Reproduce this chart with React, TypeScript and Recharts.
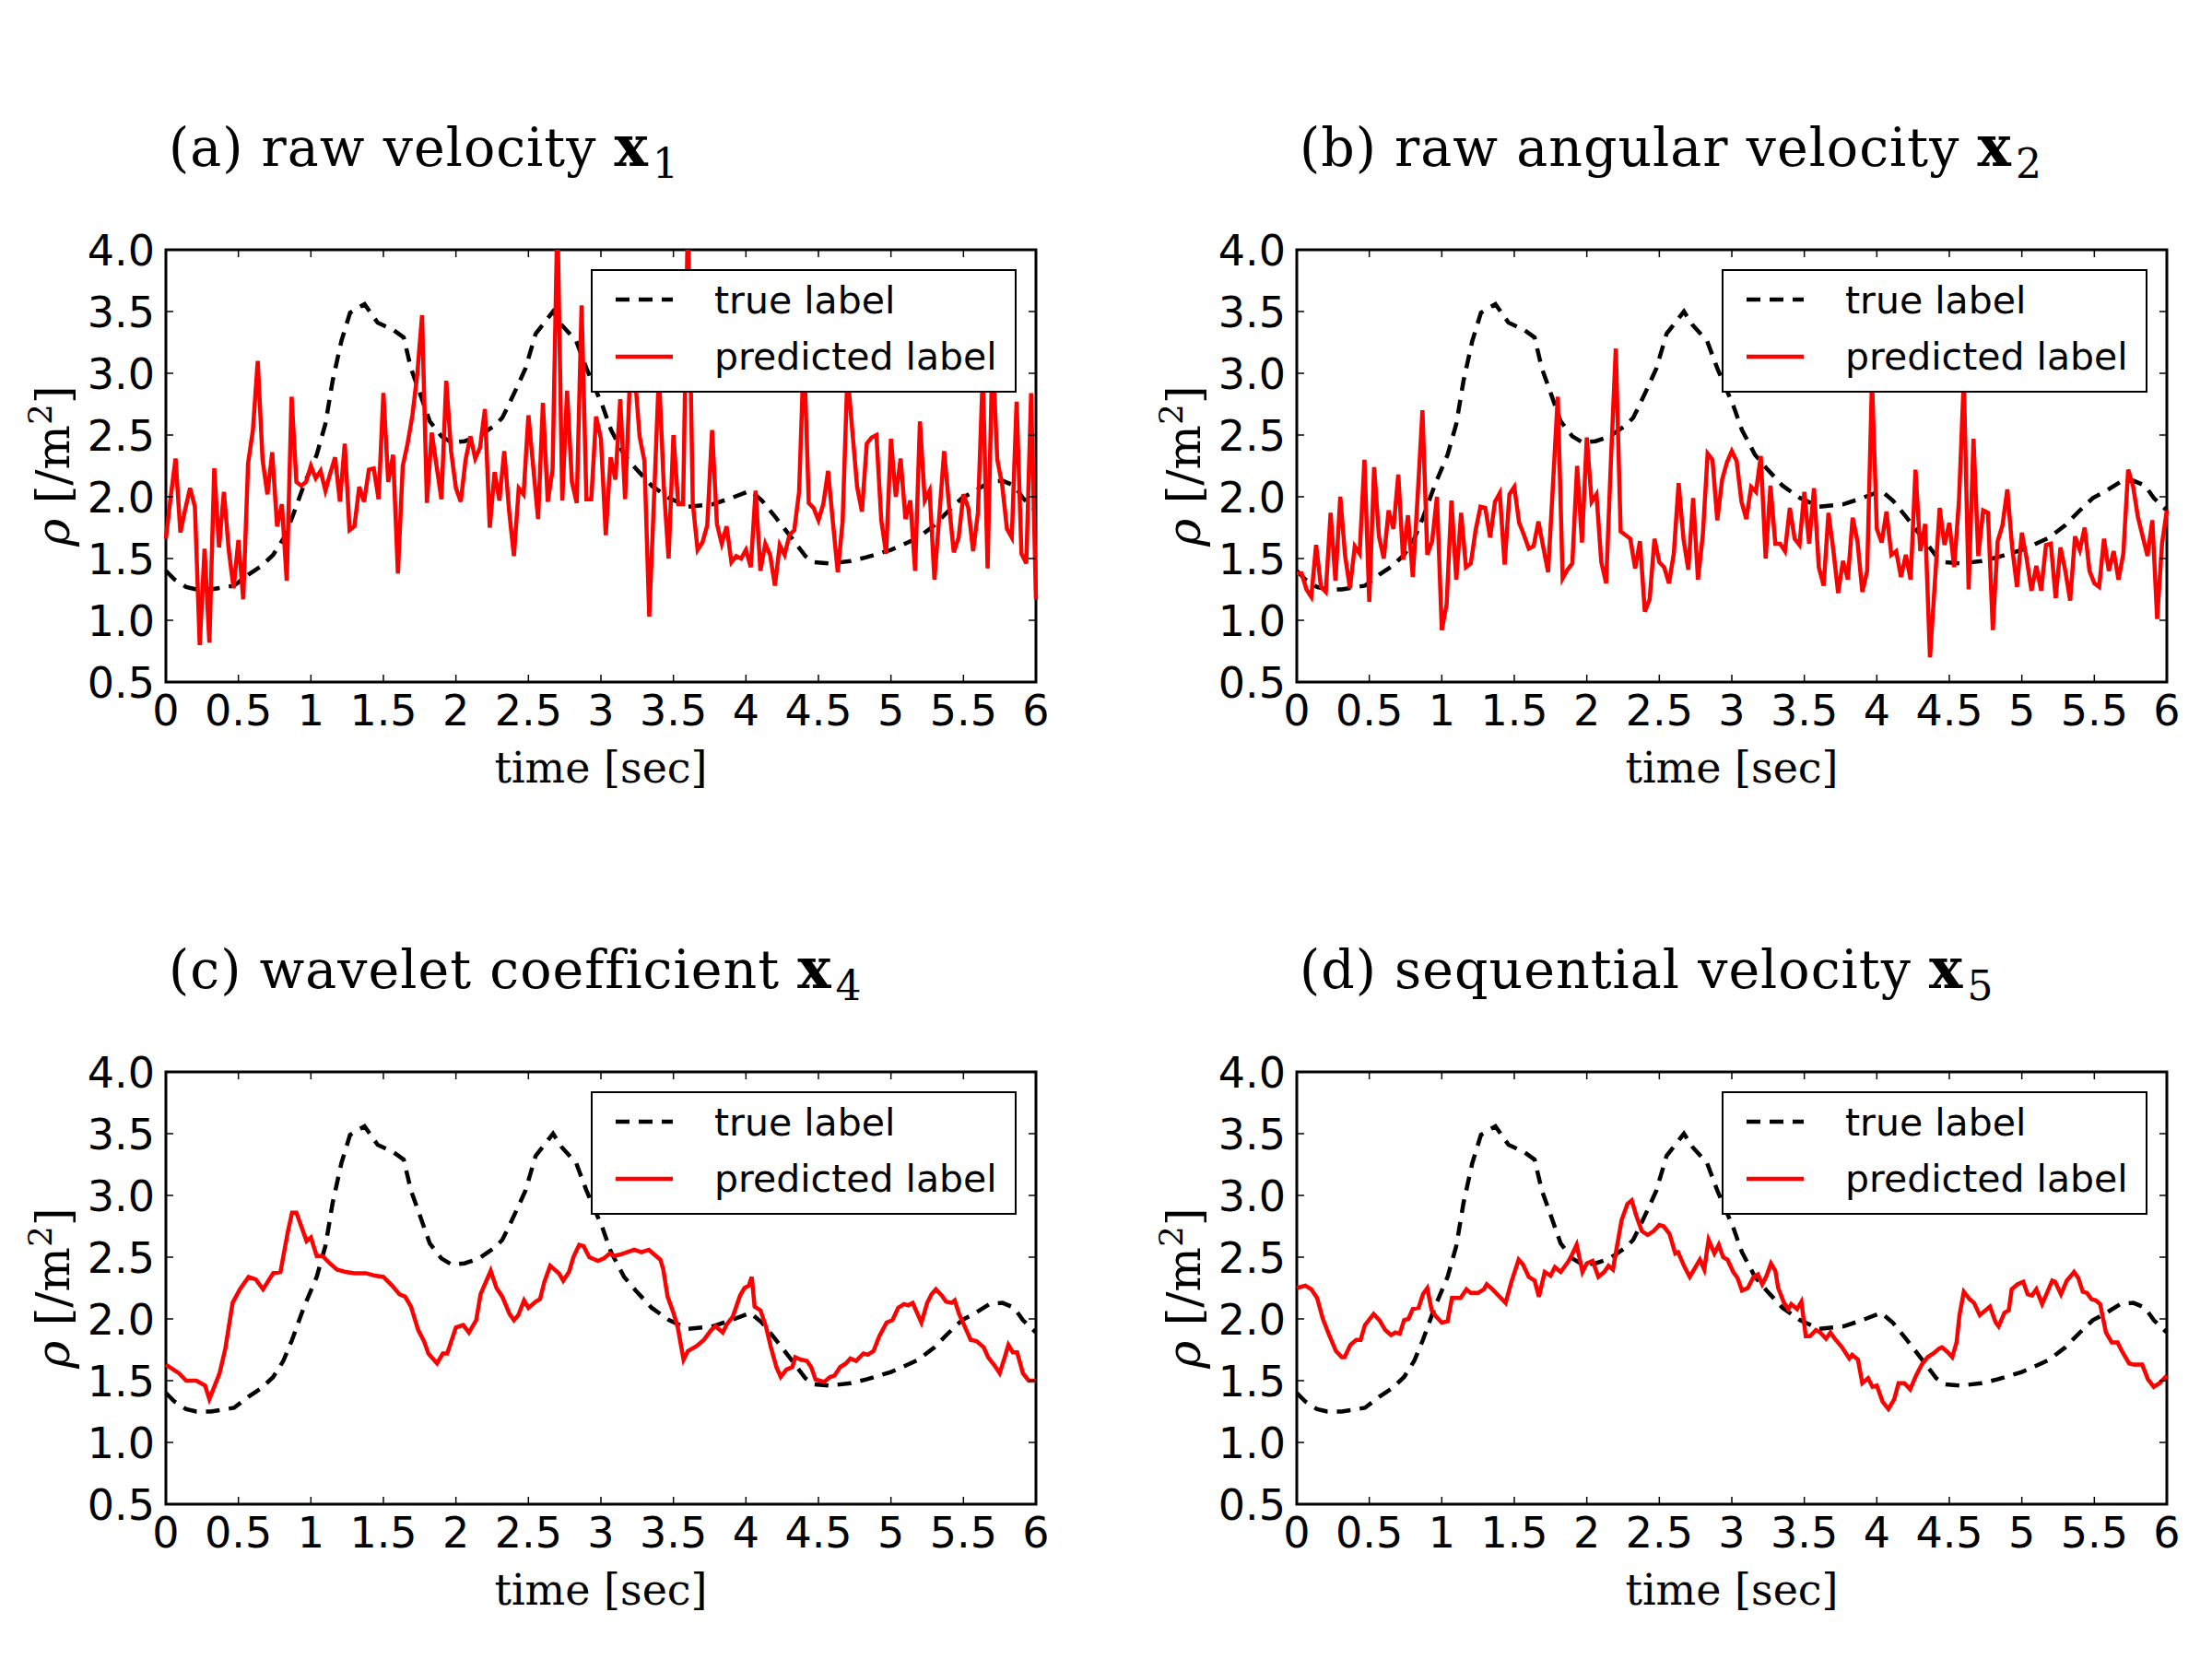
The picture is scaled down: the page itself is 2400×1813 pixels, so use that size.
import React from 'react';
import { LineChart, Line, XAxis, YAxis, ReferenceArea, Legend, Label } from 'recharts';

// ---- data -------------------------------------------------------------

const TIME_STEP = 1 / 30; // predicted series sampled at 30 Hz
const X_TICKS = [0, 0.5, 1, 1.5, 2, 2.5, 3, 3.5, 4, 4.5, 5, 5.5, 6];
const Y_TICKS = [0.5, 1.0, 1.5, 2.0, 2.5, 3.0, 3.5, 4.0];

// ground-truth density [t (sec), rho]
const TRUE_LABEL: [number, number][] = [
  [0, 1.40], [0.06, 1.33], [0.14, 1.27], [0.21, 1.25], [0.31, 1.25], [0.36, 1.26], [0.47, 1.28],
  [0.57, 1.37], [0.66, 1.44], [0.74, 1.53], [0.81, 1.66], [0.87, 1.83], [0.95, 2.09], [1.04, 2.34],
  [1.10, 2.59], [1.15, 2.94], [1.21, 3.26], [1.27, 3.49], [1.37, 3.56], [1.46, 3.41], [1.57, 3.35],
  [1.64, 3.29], [1.69, 3.04], [1.76, 2.81], [1.82, 2.61], [1.90, 2.49], [1.97, 2.44], [2.06, 2.45],
  [2.16, 2.49], [2.27, 2.58], [2.32, 2.64], [2.37, 2.76], [2.43, 2.91], [2.48, 3.04], [2.55, 3.32],
  [2.61, 3.41], [2.67, 3.50], [2.73, 3.39], [2.83, 3.26], [2.90, 3.04], [3.01, 2.74], [3.07, 2.54],
  [3.16, 2.34], [3.24, 2.23], [3.35, 2.09], [3.47, 1.99], [3.60, 1.92], [3.77, 1.94], [3.90, 1.99],
  [4.03, 2.05], [4.11, 1.97], [4.20, 1.84], [4.30, 1.69], [4.41, 1.52], [4.47, 1.47], [4.58, 1.46],
  [4.72, 1.48], [4.83, 1.51], [5.00, 1.57], [5.08, 1.61], [5.19, 1.67], [5.30, 1.77], [5.40, 1.89],
  [5.49, 1.99], [5.57, 2.04], [5.68, 2.12], [5.77, 2.13], [5.85, 2.09], [5.91, 1.99], [6.00, 1.89],
];

// (a) prediction from raw velocity, one value per TIME_STEP
const PRED_RAW_VELOCITY = [
  1.66, 2.00, 2.31, 1.71, 1.90, 2.07, 1.92, 0.80, 1.58, 0.82,
  2.23, 1.59, 2.04, 1.57, 1.26, 1.65, 1.17, 2.27, 2.54, 3.10,
  2.30, 2.02, 2.36, 1.76, 1.94, 1.32, 2.81, 2.12, 2.09, 2.12,
  2.25, 2.15, 2.21, 2.05, 2.19, 2.32, 1.96, 2.43, 1.73, 1.76,
  2.08, 1.96, 2.22, 2.23, 1.98, 2.84, 2.12, 2.34, 1.38, 2.25,
  2.43, 2.66, 2.99, 3.47, 1.95, 2.52, 2.25, 1.98, 2.94, 2.37,
  2.07, 1.96, 2.30, 2.49, 2.31, 2.40, 2.71, 1.75, 2.20, 1.97,
  2.37, 1.89, 1.52, 2.07, 2.02, 2.66, 2.24, 1.82, 2.76, 1.96,
  2.22, 4.30, 1.97, 2.86, 2.12, 1.95, 3.55, 1.98, 1.98, 2.65,
  2.47, 1.69, 2.32, 2.14, 2.79, 1.98, 2.95, 3.00, 2.49, 2.29,
  1.03, 2.00, 3.00, 2.09, 1.50, 2.50, 1.94, 1.94, 4.30, 1.95,
  1.57, 1.63, 1.77, 2.54, 1.78, 1.62, 1.76, 1.47, 1.52, 1.50,
  1.57, 1.43, 2.05, 1.40, 1.62, 1.53, 1.28, 1.61, 1.53, 1.69,
  1.73, 2.04, 3.20, 1.95, 1.91, 1.81, 1.94, 2.21, 1.79, 1.39,
  1.80, 3.00, 2.54, 2.08, 1.88, 2.43, 2.48, 2.50, 1.81, 1.54,
  2.47, 2.00, 2.31, 1.82, 1.97, 1.40, 2.61, 1.97, 2.05, 1.33,
  1.84, 2.37, 1.94, 1.55, 1.67, 2.02, 1.91, 1.56, 1.87, 3.00,
  1.42, 3.20, 2.30, 2.10, 1.74, 1.67, 2.77, 1.54, 1.46, 2.84,
  1.17,
];

// (b) prediction from raw angular velocity, one value per TIME_STEP
const PRED_RAW_ANGULAR = [
  1.38, 1.38, 1.25, 1.19, 1.61, 1.27, 1.23, 1.87, 1.32, 2.00,
  1.52, 1.26, 1.60, 1.54, 2.30, 1.15, 2.24, 1.68, 1.50, 1.89,
  1.74, 2.18, 1.49, 1.85, 1.35, 2.00, 2.70, 1.53, 1.64, 2.00,
  0.92, 1.13, 1.97, 1.33, 1.87, 1.43, 1.46, 1.73, 1.92, 1.91,
  1.67, 1.96, 2.03, 1.45, 2.02, 2.08, 1.79, 1.69, 1.58, 1.60,
  1.80, 1.59, 1.39, 2.10, 2.81, 1.34, 1.41, 1.46, 2.25, 1.63,
  2.48, 1.96, 2.02, 1.47, 1.30, 2.30, 3.20, 1.72, 1.69, 1.66,
  1.42, 1.64, 1.07, 1.17, 1.66, 1.47, 1.43, 1.30, 1.54, 2.11,
  1.66, 1.41, 1.99, 1.33, 1.69, 2.35, 2.30, 1.81, 2.14, 2.28,
  2.37, 2.29, 1.96, 1.82, 2.08, 2.04, 2.33, 1.50, 2.09, 1.62,
  1.62, 1.56, 1.91, 1.66, 1.61, 2.04, 1.62, 2.07, 1.43, 1.28,
  1.87, 1.57, 1.22, 1.48, 1.33, 1.83, 1.64, 1.23, 1.40, 2.95,
  1.74, 1.63, 1.88, 1.53, 1.56, 1.35, 1.53, 1.33, 2.22, 1.56,
  1.78, 0.70, 1.30, 1.91, 1.61, 1.79, 1.43, 1.97, 2.95, 1.25,
  2.47, 1.52, 1.89, 1.87, 0.92, 1.64, 1.77, 2.06, 1.59, 1.27,
  1.71, 1.50, 1.24, 1.44, 1.24, 1.61, 1.62, 1.18, 1.59, 1.40,
  1.16, 1.68, 1.57, 1.75, 1.40, 1.30, 1.27, 1.66, 1.40, 1.56,
  1.33, 1.54, 2.22, 2.09, 1.84, 1.68, 1.52, 1.81, 1.01, 1.62,
  1.89,
];

// (c) prediction from wavelet coefficients [t (sec), rho]
const PRED_WAVELET: [number, number][] = [
  [0, 1.63], [0.09, 1.56], [0.14, 1.50], [0.21, 1.50], [0.27, 1.46], [0.30, 1.35], [0.37, 1.56],
  [0.41, 1.76], [0.46, 2.13], [0.51, 2.24], [0.57, 2.34], [0.62, 2.32], [0.67, 2.24], [0.74, 2.37],
  [0.79, 2.38], [0.84, 2.70], [0.87, 2.86], [0.90, 2.86], [0.97, 2.63], [1.00, 2.66], [1.04, 2.51],
  [1.08, 2.51], [1.13, 2.45], [1.18, 2.40], [1.24, 2.38], [1.30, 2.37], [1.38, 2.37], [1.44, 2.35],
  [1.50, 2.34], [1.56, 2.27], [1.61, 2.20], [1.65, 2.18], [1.69, 2.10], [1.74, 1.91], [1.78, 1.82],
  [1.81, 1.72], [1.87, 1.64], [1.91, 1.72], [1.94, 1.72], [2.00, 1.93], [2.05, 1.95], [2.09, 1.89],
  [2.14, 1.99], [2.17, 2.20], [2.24, 2.39], [2.28, 2.25], [2.32, 2.18], [2.37, 2.04], [2.40, 1.99],
  [2.43, 2.03], [2.47, 2.15], [2.50, 2.09], [2.55, 2.14], [2.58, 2.16], [2.61, 2.30], [2.65, 2.43],
  [2.71, 2.37], [2.74, 2.31], [2.78, 2.38], [2.81, 2.50], [2.85, 2.60], [2.88, 2.59], [2.92, 2.50],
  [2.98, 2.47], [3.02, 2.49], [3.06, 2.53], [3.09, 2.51], [3.13, 2.52], [3.18, 2.54], [3.23, 2.56],
  [3.28, 2.54], [3.33, 2.56], [3.36, 2.53], [3.41, 2.48], [3.43, 2.40], [3.46, 2.18], [3.50, 2.05],
  [3.53, 1.93], [3.57, 1.67], [3.60, 1.74], [3.66, 1.78], [3.71, 1.83], [3.76, 1.91], [3.79, 1.94],
  [3.84, 1.89], [3.87, 1.96], [3.91, 2.02], [3.96, 2.19], [3.99, 2.25], [4.02, 2.27], [4.04, 2.34],
  [4.06, 2.10], [4.10, 2.07], [4.14, 1.93], [4.17, 1.78], [4.21, 1.61], [4.24, 1.53], [4.28, 1.59],
  [4.32, 1.61], [4.34, 1.69], [4.38, 1.67], [4.42, 1.66], [4.45, 1.61], [4.48, 1.51], [4.51, 1.50],
  [4.54, 1.49], [4.58, 1.53], [4.61, 1.54], [4.65, 1.61], [4.69, 1.64], [4.72, 1.68], [4.76, 1.66],
  [4.81, 1.72], [4.84, 1.71], [4.88, 1.74], [4.92, 1.86], [4.97, 1.97], [5.01, 1.99], [5.05, 2.09],
  [5.09, 2.12], [5.12, 2.11], [5.15, 2.13], [5.18, 2.05], [5.21, 1.97], [5.25, 2.13], [5.28, 2.20],
  [5.31, 2.24], [5.35, 2.19], [5.38, 2.14], [5.42, 2.13], [5.44, 2.15], [5.47, 2.04], [5.52, 1.91],
  [5.55, 1.83], [5.59, 1.82], [5.64, 1.77], [5.67, 1.69], [5.71, 1.63], [5.75, 1.56], [5.79, 1.71],
  [5.81, 1.79], [5.84, 1.73], [5.87, 1.73], [5.91, 1.56], [5.95, 1.50], [6.00, 1.50],
];

// (d) prediction from sequential velocity [t (sec), rho]
const PRED_SEQUENTIAL: [number, number][] = [
  [0, 2.25], [0.06, 2.27], [0.10, 2.24], [0.14, 2.17], [0.18, 2.00], [0.22, 1.88], [0.27, 1.74],
  [0.31, 1.69], [0.33, 1.69], [0.37, 1.79], [0.41, 1.83], [0.44, 1.83], [0.47, 1.95], [0.53, 2.04],
  [0.57, 1.99], [0.61, 1.91], [0.65, 1.87], [0.68, 1.89], [0.71, 1.88], [0.74, 1.99], [0.77, 2.00],
  [0.80, 2.08], [0.84, 2.09], [0.87, 2.20], [0.90, 2.25], [0.93, 2.07], [0.96, 2.02], [1.00, 1.97],
  [1.04, 1.98], [1.07, 2.17], [1.13, 2.17], [1.17, 2.24], [1.20, 2.21], [1.25, 2.21], [1.29, 2.24],
  [1.31, 2.28], [1.35, 2.24], [1.39, 2.19], [1.44, 2.13], [1.48, 2.30], [1.53, 2.48], [1.56, 2.44],
  [1.60, 2.34], [1.64, 2.31], [1.67, 2.18], [1.71, 2.38], [1.75, 2.35], [1.78, 2.42], [1.82, 2.38],
  [1.87, 2.46], [1.89, 2.50], [1.93, 2.60], [1.97, 2.38], [2.00, 2.45], [2.04, 2.47], [2.08, 2.34],
  [2.12, 2.38], [2.15, 2.43], [2.18, 2.40], [2.21, 2.60], [2.24, 2.80], [2.28, 2.93], [2.31, 2.96],
  [2.34, 2.84], [2.38, 2.71], [2.42, 2.68], [2.46, 2.71], [2.50, 2.76], [2.53, 2.75], [2.57, 2.69],
  [2.61, 2.53], [2.63, 2.54], [2.67, 2.43], [2.71, 2.34], [2.75, 2.42], [2.78, 2.48], [2.81, 2.40],
  [2.84, 2.64], [2.88, 2.53], [2.91, 2.60], [2.94, 2.50], [2.97, 2.48], [3.01, 2.38], [3.04, 2.33],
  [3.07, 2.23], [3.11, 2.25], [3.15, 2.34], [3.18, 2.36], [3.21, 2.28], [3.24, 2.35], [3.27, 2.45],
  [3.30, 2.39], [3.32, 2.25], [3.36, 2.13], [3.39, 2.08], [3.41, 2.12], [3.45, 2.08], [3.48, 2.14],
  [3.51, 1.86], [3.54, 1.86], [3.58, 1.91], [3.61, 1.89], [3.65, 1.84], [3.68, 1.89], [3.71, 1.84],
  [3.76, 1.77], [3.81, 1.68], [3.83, 1.71], [3.87, 1.67], [3.90, 1.48], [3.94, 1.52], [3.97, 1.45],
  [4.00, 1.46], [4.04, 1.33], [4.08, 1.27], [4.12, 1.35], [4.15, 1.48], [4.19, 1.48], [4.23, 1.43],
  [4.27, 1.54], [4.31, 1.63], [4.35, 1.69], [4.39, 1.72], [4.43, 1.76], [4.45, 1.77], [4.49, 1.73],
  [4.52, 1.69], [4.55, 1.81], [4.57, 2.03], [4.60, 2.22], [4.64, 2.16], [4.67, 2.13], [4.71, 2.03],
  [4.75, 2.07], [4.78, 2.10], [4.82, 1.97], [4.84, 1.94], [4.88, 2.05], [4.91, 2.07], [4.93, 2.24],
  [4.97, 2.28], [5.01, 2.30], [5.04, 2.20], [5.07, 2.19], [5.10, 2.24], [5.14, 2.12], [5.17, 2.20],
  [5.21, 2.31], [5.23, 2.30], [5.27, 2.20], [5.31, 2.31], [5.34, 2.35], [5.36, 2.38], [5.39, 2.33],
  [5.42, 2.22], [5.45, 2.21], [5.48, 2.16], [5.51, 2.15], [5.54, 2.12], [5.58, 1.89], [5.62, 1.81],
  [5.66, 1.81], [5.69, 1.74], [5.74, 1.64], [5.77, 1.63], [5.83, 1.63], [5.87, 1.51], [5.91, 1.45],
  [5.95, 1.48], [6.00, 1.54],
];

const LEGEND_ITEMS = [
  { label: 'true label', color: '#000000', dash: '15 10' },
  { label: 'predicted label', color: '#ff0000', dash: undefined as string | undefined },
];

// ---- layout -----------------------------------------------------------

const CHART_W = 1170;
const CHART_H = 900;
const MARGIN = { top: 271, right: 46, bottom: 60, left: 60 };
const Y_AXIS_W = 120;
const X_AXIS_H = 100;
const PLOT = {
  left: MARGIN.left + Y_AXIS_W,
  right: CHART_W - MARGIN.right,
  top: MARGIN.top,
  bottom: CHART_H - MARGIN.bottom - X_AXIS_H,
};
const TICK_LEN = 8;
const SANS = "'DejaVu Sans', sans-serif";
const SERIF = "'DejaVu Serif', serif";
const LINE_W = 4.5;
const DASH = '15 10';

const toPoints = (pairs: [number, number][]) => pairs.map(([t, v]) => ({ t, v }));
const sampled = (values: number[]) => values.map((v, i) => ({ t: i * TIME_STEP, v }));

const TRUE_POINTS = toPoints(TRUE_LABEL);

const PANELS = [
  { id: 'a', letter: '(a)', name: 'raw velocity', sub: '1', left: 0, top: 0, pred: sampled(PRED_RAW_VELOCITY) },
  { id: 'b', letter: '(b)', name: 'raw angular velocity', sub: '2', left: 1227, top: 0, pred: sampled(PRED_RAW_ANGULAR) },
  { id: 'c', letter: '(c)', name: 'wavelet coefficient', sub: '4', left: 0, top: 892, pred: toPoints(PRED_WAVELET) },
  { id: 'd', letter: '(d)', name: 'sequential velocity', sub: '5', left: 1227, top: 892, pred: toPoints(PRED_SEQUENTIAL) },
];

// ---- axis pieces (inward ticks on all four sides) ----------------------

function XTick(props: any) {
  const { x, payload } = props;
  return (
    <g>
      <line x1={x} x2={x} y1={PLOT.bottom} y2={PLOT.bottom - TICK_LEN} stroke="#000" strokeWidth={1.5} />
      <line x1={x} x2={x} y1={PLOT.top} y2={PLOT.top + TICK_LEN} stroke="#000" strokeWidth={1.5} />
      <text x={x} y={PLOT.bottom + 47} textAnchor="middle" fontFamily={SANS} fontSize={46} fill="#000">
        {String(payload.value)}
      </text>
    </g>
  );
}

function YTick(props: any) {
  const { y, payload } = props;
  return (
    <g>
      <line x1={PLOT.left} x2={PLOT.left + TICK_LEN} y1={y} y2={y} stroke="#000" strokeWidth={1.5} />
      <line x1={PLOT.right} x2={PLOT.right - TICK_LEN} y1={y} y2={y} stroke="#000" strokeWidth={1.5} />
      <text x={PLOT.left - 12} y={y} dy="0.36em" textAnchor="end" fontFamily={SANS} fontSize={46} fill="#000">
        {Number(payload.value).toFixed(1)}
      </text>
    </g>
  );
}

function XLabel() {
  return (
    <text x={(PLOT.left + PLOT.right) / 2} y={PLOT.bottom + 109} textAnchor="middle" fontFamily={SERIF} fontSize={46} fill="#000">
      time [sec]
    </text>
  );
}

function YLabel() {
  const lx = 75;
  const ly = (PLOT.top + PLOT.bottom) / 2;
  return (
    <text x={lx} y={ly} transform={`rotate(-90 ${lx} ${ly})`} textAnchor="middle" fontFamily={SERIF} fontSize={51} fill="#000">
      <tspan fontStyle="italic">ρ</tspan>
      {' [/m'}
      <tspan dy={-19} fontSize={36}>2</tspan>
      <tspan dy={19}>]</tspan>
    </text>
  );
}

function LegendBox() {
  return (
    <svg width={462} height={134} style={{ display: 'block' }}>
      <rect x={1} y={1} width={460} height={132} fill="#fff" stroke="#000" strokeWidth={2} />
      {LEGEND_ITEMS.map((it, i) => (
        <g key={it.label}>
          <line x1={27} x2={89} y1={33 + 62 * i} y2={33 + 62 * i} stroke={it.color} strokeWidth={LINE_W} strokeDasharray={it.dash} />
          <text x={134} y={48 + 61 * i} fontFamily={SANS} fontSize={41} fill="#000">
            {it.label}
          </text>
        </g>
      ))}
    </svg>
  );
}

function Panel({ p }: { p: (typeof PANELS)[number] }) {
  return (
    <div style={{ position: 'absolute', left: p.left, top: p.top, width: CHART_W, height: CHART_H }}>
      <LineChart width={CHART_W} height={CHART_H} margin={MARGIN}>
        <XAxis
          type="number"
          dataKey="t"
          domain={[0, 6]}
          ticks={X_TICKS}
          interval={0}
          height={X_AXIS_H}
          axisLine={false}
          tickLine={false}
          tick={<XTick />}
        >
          <Label content={<XLabel />} />
        </XAxis>
        <YAxis
          type="number"
          domain={[0.5, 4]}
          ticks={Y_TICKS}
          interval={0}
          width={Y_AXIS_W}
          axisLine={false}
          tickLine={false}
          tick={<YTick />}
          allowDataOverflow
        >
          <Label content={<YLabel />} />
        </YAxis>
        <Line
          data={TRUE_POINTS}
          dataKey="v"
          name="true label"
          type="linear"
          stroke="#000"
          strokeWidth={LINE_W}
          strokeDasharray={DASH}
          dot={false}
          activeDot={false}
          isAnimationActive={false}
        />
        <Line
          data={p.pred}
          dataKey="v"
          name="predicted label"
          type="linear"
          stroke="#ff0000"
          strokeWidth={LINE_W}
          dot={false}
          activeDot={false}
          isAnimationActive={false}
        />
        <ReferenceArea x1={0} x2={6} y1={0.5} y2={4} fill="none" stroke="#000" strokeWidth={3} ifOverflow="visible" />
        <Legend
          layout="horizontal"
          verticalAlign="middle"
          align="center"
          content={() => <LegendBox />}
          wrapperStyle={{ left: 641, top: 292, width: 462, height: 134 }}
        />
      </LineChart>
      <svg
        width={CHART_W}
        height={CHART_H}
        style={{ position: 'absolute', left: 0, top: 0, pointerEvents: 'none' }}
      >
        <text x={183} y={180} fontFamily={SERIF} fontSize={57} letterSpacing={1} fill="#000">
          {`${p.letter} ${p.name} `}
          <tspan fontWeight="bold" fontSize={61}>x</tspan>
          <tspan fontSize={44} dx={4} dy={13}>{p.sub}</tspan>
        </text>
      </svg>
    </div>
  );
}

export default function App() {
  return (
    <div style={{ position: 'absolute', left: 0, top: 0, width: 2400, height: 1813, background: '#fff', overflow: 'hidden' }}>
      {PANELS.map((p) => (
        <Panel key={p.id} p={p} />
      ))}
    </div>
  );
}
